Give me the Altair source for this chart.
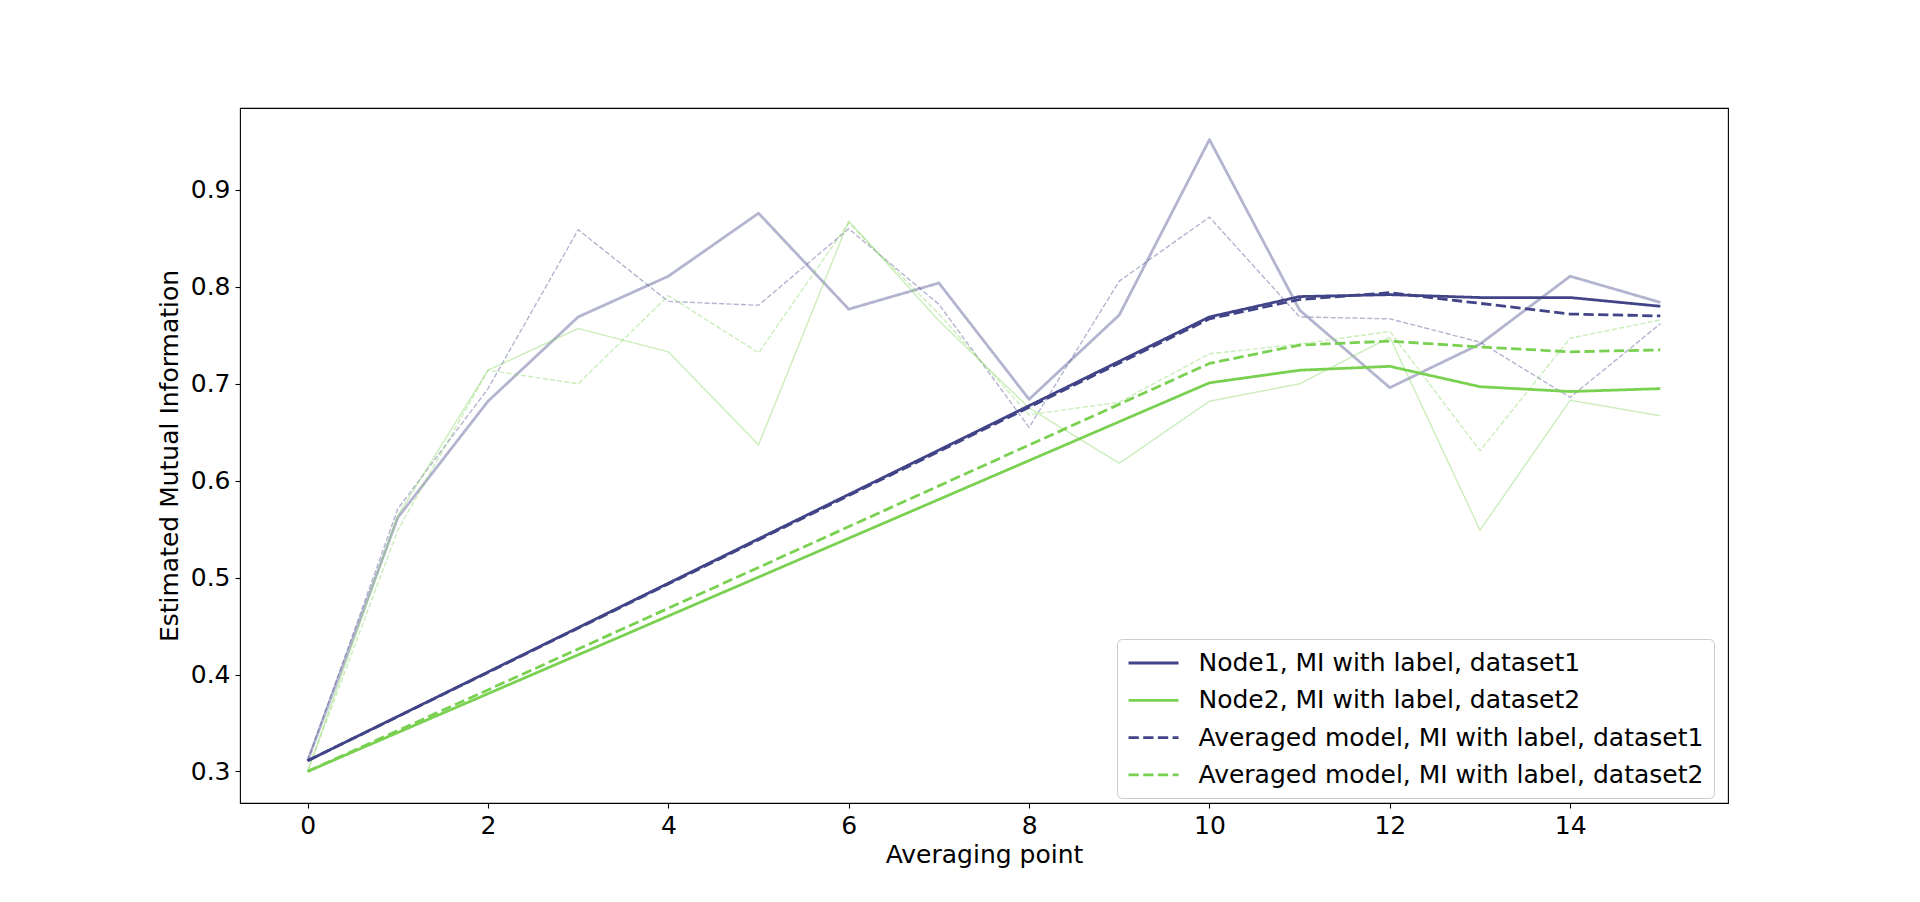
import altair as alt
import pandas as pd

# ---- data ----
steps = list(range(16))
node1_local = [0.311, 0.562, 0.682, 0.769, 0.811, 0.876, 0.777, 0.804, 0.684, 0.771, 0.952, 0.776, 0.696, 0.741, 0.811, 0.784]
avg1_local = [0.311, 0.571, 0.695, 0.859, 0.785, 0.781, 0.860, 0.782, 0.655, 0.806, 0.872, 0.769, 0.767, 0.743, 0.686, 0.762]
node2_local = [0.300, 0.564, 0.714, 0.757, 0.733, 0.637, 0.868, 0.765, 0.675, 0.618, 0.682, 0.700, 0.748, 0.549, 0.683, 0.667]
avg2_local = [0.300, 0.549, 0.714, 0.700, 0.791, 0.732, 0.866, 0.772, 0.668, 0.681, 0.731, 0.741, 0.754, 0.631, 0.747, 0.766]

trend_steps = [0, 10, 11, 12, 13, 14, 15]
node1_trend = [0.311, 0.769, 0.790, 0.792, 0.789, 0.789, 0.780]
node2_trend = [0.300, 0.701, 0.714, 0.718, 0.697, 0.692, 0.695]
avg1_trend = [0.311, 0.767, 0.787, 0.794, 0.783, 0.772, 0.770]
avg2_trend = [0.300, 0.721, 0.740, 0.744, 0.738, 0.733, 0.735]

labels = [
    "Node1, MI with label, dataset1",
    "Node2, MI with label, dataset2",
    "Averaged model, MI with label, dataset1",
    "Averaged model, MI with label, dataset2",
]
x_ticks = [0, 2, 4, 6, 8, 10, 12, 14]
y_ticks = [0.3, 0.4, 0.5, 0.6, 0.7, 0.8, 0.9]

NAVY = "#414487"
GREEN = "#7ad151"
FONT = "DejaVu Sans"
FS = 25
LW = 2.78
THIN = 1.39

x_enc = alt.X(
    "step:Q",
    scale=alt.Scale(domain=[-0.75, 15.75], nice=False, zero=False),
    axis=alt.Axis(
        values=x_ticks, title="Averaging point", grid=False, domain=False,
        tickSize=5, tickColor="black", tickWidth=1.1,
        labelFont=FONT, labelFontSize=FS, labelColor="black", labelPadding=5,
        labelFlush=False, labelOverlap=False,
        titleFont=FONT, titleFontSize=FS, titleFontWeight="normal", titleColor="black",
        titlePadding=4,
    ),
)
y_enc = alt.Y(
    "value:Q",
    scale=alt.Scale(domain=[0.2674, 0.9846], nice=False, zero=False),
    axis=alt.Axis(
        values=y_ticks, format=".1f", title="Estimated Mutual Information", grid=False,
        domain=False, tickSize=5, tickColor="black", tickWidth=1.1,
        labelFont=FONT, labelFontSize=FS, labelColor="black", labelPadding=5,
        labelFlush=False, labelOverlap=False,
        titleFont=FONT, titleFontSize=FS, titleFontWeight="normal", titleColor="black",
        titlePadding=8,
    ),
)

light_specs = [
    (node1_local, NAVY, LW, [1, 0]),
    (avg1_local, NAVY, THIN, [5.1, 2.2]),
    (node2_local, GREEN, THIN, [1, 0]),
    (avg2_local, GREEN, THIN, [5.1, 2.2]),
]
layers = []
for vals, col, w, dash in light_specs:
    d = pd.DataFrame({"step": steps, "value": vals})
    layers.append(
        alt.Chart(d).mark_line(color=col, opacity=0.4, strokeWidth=w, strokeDash=dash, strokeJoin="round")
        .encode(x=x_enc, y=y_enc)
    )

rows = []
for lab, vals in zip(labels, [node1_trend, node2_trend, avg1_trend, avg2_trend]):
    for s, v in zip(trend_steps, vals):
        rows.append({"step": s, "value": v, "series": lab})
bold_df = pd.DataFrame(rows)

legend = alt.Legend(
    title=None, orient="none", legendX=877, legendY=531,
    symbolType="M-1,0H3", symbolSize=625, symbolStrokeWidth=LW,
    labelFont=FONT, labelFontSize=FS, labelColor="black", labelLimit=900,
    labelOffset=43.5, rowPadding=10.3, padding=10,
    strokeColor="#cccccc", fillColor="rgba(255,255,255,0.8)", cornerRadius=5,
)

bold = alt.Chart(bold_df).mark_line(strokeWidth=LW, strokeJoin="round").encode(
    x=x_enc,
    y=y_enc,
    color=alt.Color("series:N", sort=labels,
                    scale=alt.Scale(domain=labels, range=[NAVY, GREEN, NAVY, GREEN]),
                    legend=legend),
    strokeDash=alt.StrokeDash("series:N", sort=labels,
                              scale=alt.Scale(domain=labels, range=[[1, 0], [1, 0], [10.3, 4.4], [10.3, 4.4]]),
                              legend=legend),
    detail="series:N",
)
layers.append(bold)

chart = alt.layer(*layers).properties(
    width=1488, height=695,
    autosize=alt.AutoSizeParams(type="none"),
    padding={"left": 232, "top": 100, "right": 100, "bottom": 70},
    background="white",
).configure_view(stroke="black", strokeWidth=1.1)

chart.save("out.html", embed_options={"renderer": "svg", "actions": False})
